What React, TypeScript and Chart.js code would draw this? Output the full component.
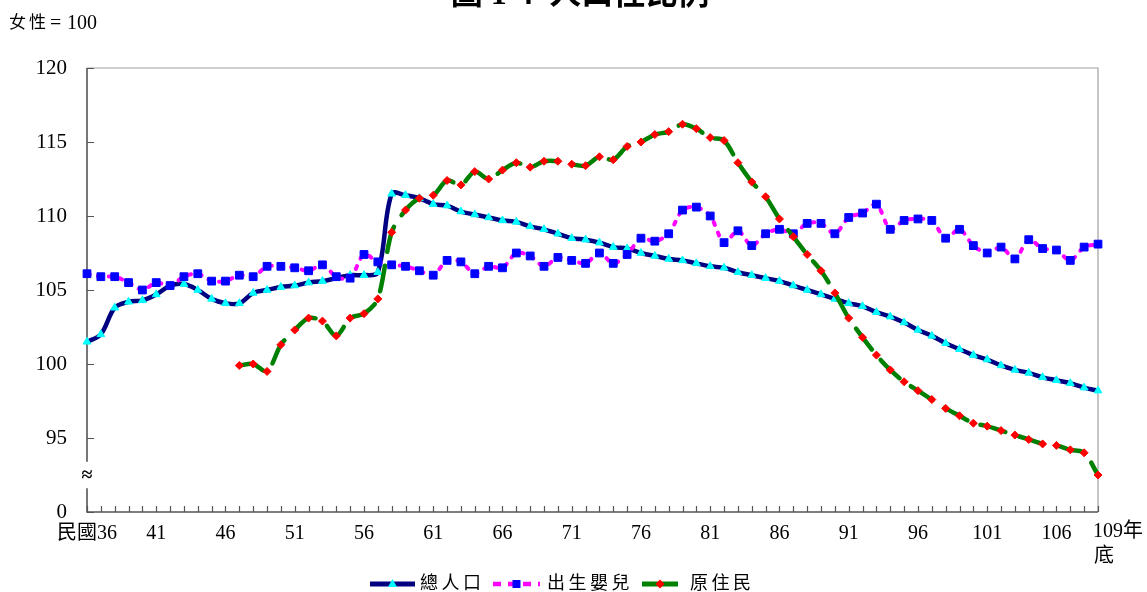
import React, { useEffect, useRef } from "react";
import { Chart, registerables } from "chart.js";

Chart.register(...registerables);

const years = [
  36, 37, 38, 39, 40, 41, 42, 43, 44, 45, 46, 47, 48, 49, 50, 51, 52, 53, 54, 55,
  56, 57, 58, 59, 60, 61, 62, 63, 64, 65, 66, 67, 68, 69, 70, 71, 72, 73, 74, 75,
  76, 77, 78, 79, 80, 81, 82, 83, 84, 85, 86, 87, 88, 89, 90, 91, 92, 93, 94, 95,
  96, 97, 98, 99, 100, 101, 102, 103, 104, 105, 106, 107, 108, 109,
];

const totalPop = [
  101.5, 102.0, 103.8, 104.2, 104.3, 104.7, 105.3, 105.4, 105.0, 104.4, 104.1, 104.1, 104.8, 105.0, 105.2, 105.3, 105.5, 105.6, 105.8, 106.0,
  106.0, 106.2, 111.5, 111.4, 111.2, 110.8, 110.7, 110.3, 110.1, 109.9, 109.7, 109.6, 109.3, 109.1, 108.8, 108.5, 108.4, 108.2, 107.9, 107.8,
  107.5, 107.3, 107.1, 107.0, 106.8, 106.6, 106.5, 106.2, 106.0, 105.8, 105.6, 105.3, 105.0, 104.7, 104.4, 104.1, 103.9, 103.5, 103.2, 102.8,
  102.3, 101.9, 101.4, 101.0, 100.6, 100.3, 99.9, 99.6, 99.4, 99.1, 98.9, 98.7, 98.4, 98.2,
];

const births = [
  106.1, 105.9, 105.9, 105.5, 105.0, 105.5, 105.3, 105.9, 106.1, 105.6, 105.6, 106.0, 105.9, 106.6, 106.6, 106.5, 106.3, 106.7, 105.9, 105.8,
  107.4, 106.9, 106.7, 106.6, 106.3, 106.0, 107.0, 106.9, 106.1, 106.6, 106.5, 107.5, 107.3, 106.6, 107.2, 107.0, 106.8, 107.5, 106.8, 107.4,
  108.5, 108.3, 108.8, 110.4, 110.6, 110.0, 108.2, 109.0, 108.0, 108.8, 109.1, 108.8, 109.5, 109.5, 108.8, 109.9, 110.2, 110.8, 109.1, 109.7,
  109.8, 109.7, 108.5, 109.1, 108.0, 107.5, 107.9, 107.1, 108.4, 107.8, 107.7, 107.0, 107.9, 108.1,
];

const indigenous = [
  null, null, null, null, null, null, null, null, null, null, null, 99.9, 100.0, 99.5, 101.3, 102.3, 103.1, 102.9, 101.9, 103.1,
  103.4, 104.4, 108.9, 110.4, 111.2, 111.4, 112.4, 112.1, 113.0, 112.5, 113.1, 113.6, 113.3, 113.7, 113.7, 113.5, 113.4, 114.0, 113.8, 114.7,
  115.0, 115.5, 115.7, 116.2, 115.9, 115.3, 115.1, 113.6, 112.3, 111.3, 109.8, 108.6, 107.4, 106.3, 104.8, 103.1, 101.8, 100.6, 99.6, 98.8,
  98.2, 97.6, 97.0, 96.5, 96.0, 95.8, 95.5, 95.2, 94.9, 94.6, 94.5, 94.2, 94.0, 92.5,
];

const xLabelYears = [36, 41, 46, 51, 56, 61, 66, 71, 76, 81, 86, 91, 96, 101, 106];
const xLabelTexts = ["民國36", "41", "46", "51", "56", "61", "66", "71", "76", "81", "86", "91", "96", "101", "106"];
const lastLabelLines = ["109年", "底"];
const seriesNames = ["總人口", "出生嬰兒", "原住民"];
const titleText = "圖 1-4  人口性比例";
const unitParts = ["女", "性", "=", "100"];
const yMin = 90;
const yMax = 120;
const yStep = 5;

const SERIF = "'Liberation Serif', 'Times New Roman', 'Noto Sans CJK TC', serif";

function drawMarker(ctx: CanvasRenderingContext2D, kind: string, x: number, y: number, color: string) {
  ctx.save();
  ctx.fillStyle = color;
  ctx.beginPath();
  if (kind === "triangle") {
    ctx.moveTo(x, y - 5);
    ctx.lineTo(x + 4.5, y + 3);
    ctx.lineTo(x - 4.5, y + 3);
    ctx.closePath();
  } else if (kind === "rect") {
    ctx.rect(x - 4, y - 4, 8, 8);
  } else {
    ctx.moveTo(x, y - 4.5);
    ctx.lineTo(x + 4.5, y);
    ctx.lineTo(x, y + 4.5);
    ctx.lineTo(x - 4.5, y);
    ctx.closePath();
  }
  ctx.fill();
  ctx.restore();
}

const decorPlugin = {
  id: "decor",
  beforeDatasetsDraw(chart: any) {
    const { ctx, chartArea: a, scales } = chart;
    const yS = scales.y;
    const xS = scales.x;
    ctx.save();
    // top & right border
    ctx.strokeStyle = "#a0a0a0";
    ctx.lineWidth = 1.2;
    ctx.beginPath();
    ctx.moveTo(a.left, a.top);
    ctx.lineTo(a.right, a.top);
    ctx.lineTo(a.right, a.bottom);
    ctx.stroke();
    // left axis with break
    const breakTop = yS.getPixelForValue(93.4);
    const breakBot = yS.getPixelForValue(91.6);
    ctx.strokeStyle = "#555555";
    ctx.lineWidth = 1.6;
    ctx.beginPath();
    ctx.moveTo(a.left, a.top);
    ctx.lineTo(a.left, breakTop);
    ctx.moveTo(a.left, breakBot);
    ctx.lineTo(a.left, a.bottom);
    ctx.lineTo(a.right, a.bottom);
    ctx.stroke();
    // y ticks inward
    ctx.lineWidth = 1.2;
    ctx.beginPath();
    for (let v = yMin; v <= yMax; v += yStep) {
      const py = Math.round(yS.getPixelForValue(v)) + 0.5;
      ctx.moveTo(a.left, py);
      ctx.lineTo(a.left + 7, py);
    }
    // x ticks inward
    years.forEach((_, i) => {
      const px = Math.round(xS.getPixelForValue(i)) + 0.5;
      ctx.moveTo(px, a.bottom);
      ctx.lineTo(px, a.bottom - 6);
    });
    ctx.stroke();
    // break symbol
    ctx.fillStyle = "#000";
    ctx.font = `bold 20px ${SERIF}`;
    ctx.textAlign = "center";
    ctx.textBaseline = "middle";
    ctx.fillText("≈", a.left, (breakTop + breakBot) / 2 + 1);
    ctx.restore();
  },
  afterDraw(chart: any) {
    const { ctx, chartArea: a, scales } = chart;
    const xS = scales.x;
    ctx.save();
    ctx.fillStyle = "#000";
    // title (cut at top)
    ctx.font = `bold 32px ${SERIF}`;
    ctx.textAlign = "center";
    ctx.textBaseline = "alphabetic";
    ctx.fillText(titleText, 580, 4);
    // unit
    ctx.textAlign = "left";
    ctx.textBaseline = "middle";
    ctx.font = `17px ${SERIF}`;
    ctx.fillText(unitParts[0], 9, 24);
    ctx.fillText(unitParts[1], 29, 24);
    ctx.font = `20px ${SERIF}`;
    ctx.fillText(unitParts[2], 50, 24);
    ctx.fillText(unitParts[3], 67, 24);
    // x labels
    ctx.font = `20px ${SERIF}`;
    ctx.textAlign = "center";
    xLabelYears.forEach((yr, k) => {
      const idx = years.indexOf(yr);
      ctx.fillText(xLabelTexts[k], xS.getPixelForValue(idx), a.bottom + 22);
    });
    const lastX = xS.getPixelForValue(years.length - 1);
    ctx.textAlign = "left";
    ctx.fillText(lastLabelLines[0], lastX - 5, a.bottom + 20);
    ctx.fillText(lastLabelLines[1], lastX - 4, a.bottom + 45);
    // legend
    const ly = 584;
    const items = [
      { x0: 370, x1: 415, tx: 420, color: "#000080", dash: [] as number[], width: 5, marker: "triangle", mc: "#00FFFF" },
      { x0: 493, x1: 540, tx: 547, color: "#FF00FF", dash: [8, 7], width: 4.5, marker: "rect", mc: "#0000FF" },
      { x0: 642, x1: 678, tx: 690, color: "#008000", dash: [] as number[], width: 5, marker: "rectRot", mc: "#FF0000" },
    ];
    items.forEach((it, k) => {
      ctx.save();
      ctx.strokeStyle = it.color;
      ctx.lineWidth = it.width;
      ctx.setLineDash(it.dash);
      ctx.lineCap = "butt";
      ctx.beginPath();
      ctx.moveTo(it.x0, ly);
      ctx.lineTo(it.x1, ly);
      ctx.stroke();
      ctx.restore();
      drawMarker(ctx, it.marker, (it.x0 + it.x1) / 2, ly, it.mc);
      ctx.font = `18px ${SERIF}`;
      ctx.textAlign = "left";
      ctx.textBaseline = "middle";
      const chars = Array.from(seriesNames[k]);
      chars.forEach((c, j) => ctx.fillText(c, it.tx + j * 21.5, ly));
    });
    ctx.restore();
  },
};

export default function App() {
  const ref = useRef<HTMLCanvasElement | null>(null);
  useEffect(() => {
    document.body.style.margin = "0";
    const canvas = ref.current;
    if (!canvas) return;
    const chart = new Chart(canvas, {
      type: "line",
      data: {
        labels: years.map(String),
        datasets: [
          {
            label: seriesNames[0],
            data: totalPop,
            borderColor: "#000080",
            borderWidth: 4.5,
            tension: 0.35,
            pointStyle: "triangle",
            pointRadius: 4.5,
            pointBackgroundColor: "#00FFFF",
            pointBorderColor: "#00FFFF",
            pointBorderWidth: 1,
            clip: false,
            order: 3,
          },
          {
            label: seriesNames[1],
            data: births,
            borderColor: "#FF00FF",
            borderWidth: 4,
            borderDash: [3, 8],
            borderCapStyle: "round",
            tension: 0.3,
            pointStyle: "rect",
            pointRadius: 5.5,
            pointBackgroundColor: "#0000FF",
            pointBorderColor: "#0000FF",
            pointBorderWidth: 1,
            clip: false,
            order: 2,
          },
          {
            label: seriesNames[2],
            data: indigenous,
            borderColor: "#008000",
            borderWidth: 4.5,
            borderDash: [26, 14],
            borderCapStyle: "round",
            tension: 0.3,
            spanGaps: false,
            pointStyle: "rectRot",
            pointRadius: 4,
            pointBackgroundColor: "#FF0000",
            pointBorderColor: "#FF0000",
            pointBorderWidth: 1,
            clip: false,
            order: 1,
          },
        ] as any,
      },
      options: {
        responsive: false,
        animation: false,
        events: [],
        layout: { padding: { top: 68, right: 49, bottom: 0, left: 0 } },
        plugins: {
          legend: { display: false },
          tooltip: { enabled: false },
          title: { display: false },
        },
        scales: {
          x: {
            grid: { display: false, drawTicks: false },
            border: { display: false },
            ticks: { display: false },
            afterFit: (s: any) => {
              s.height = 80;
            },
          },
          y: {
            min: yMin,
            max: yMax,
            grid: { display: false, drawTicks: false },
            border: { display: false },
            ticks: {
              stepSize: yStep,
              padding: 20,
              color: "#000",
              font: { family: SERIF, size: 21 },
              callback: (v: any) => (v === yMin ? "0" : String(v)),
            },
            afterFit: (s: any) => {
              s.width = 87;
            },
          },
        },
      } as any,
      plugins: [decorPlugin],
    });
    return () => chart.destroy();
  }, []);
  return (
    <div style={{ position: "relative", width: 1147, height: 592, background: "#fff" }}>
      <canvas ref={ref} width={1147} height={592} style={{ display: "block", width: 1147, height: 592 }} />
    </div>
  );
}
